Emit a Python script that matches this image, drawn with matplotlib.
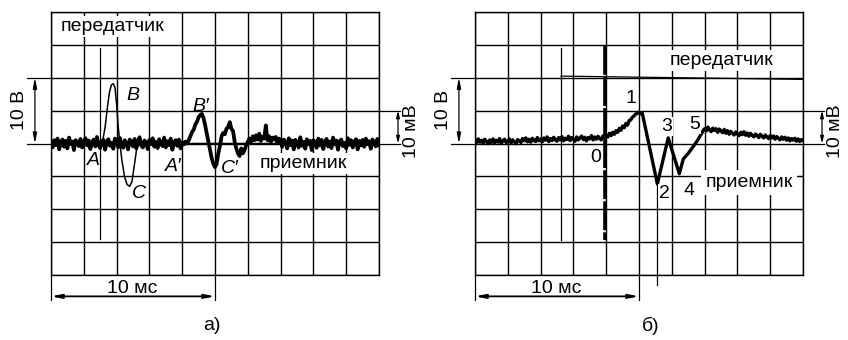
import numpy as np
import matplotlib
matplotlib.use("Agg")
import matplotlib.pyplot as plt

plt.rcParams['font.family'] = ['Liberation Sans', 'DejaVu Sans']

# ---- data, in screen divisions (x: 0..10, y: -4..4) ----
# panel a) transmitter pulse (thin)
tx_a_x = [0, 1.52, 1.58, 1.65, 1.72, 1.78, 1.84, 1.90, 1.95, 2.00, 2.05, 2.10,
          2.16, 2.24, 2.32, 2.40, 2.47, 2.55, 2.62, 2.66, 10]
tx_a_y = [0, 0, 0.10, 0.50, 1.10, 1.55, 1.78, 1.82, 1.70, 1.20, 0.50, 0,
          -0.50, -1.00, -1.25, -1.30, -1.15, -0.60, -0.10, 0, 0]
trig_a = 1.49

# panel a) receiver (thick), sampled every 0.05 div
rx_a_y = [
    0.05, -0.12, 0.10, -0.05, 0.15, -0.18, 0.02, 0.12, -0.10, 0.08,
    -0.15, 0.18, -0.02, 0.06, -0.20, 0.10, 0.04, -0.08, 0.14, -0.12,
    0.00, 0.16, -0.06, 0.09, -0.17, 0.03, 0.12, -0.09, 0.20, -0.04,
    -0.14, 0.07, 0.11, -0.19, 0.05, 0.13, -0.07, 0.02, -0.16, 0.15,
    0.08, -0.11, 0.17, -0.03, -0.13, 0.10, 0.01, -0.18, 0.12, 0.06,
    -0.09, 0.14, -0.15, 0.04, 0.19, -0.06, -0.12, 0.09, 0.03, -0.17,
    0.11, -0.02, 0.16, -0.10, 0.05, -0.14, 0.13, 0.00, -0.08, 0.18,
    -0.12, 0.07, -0.05, 0.15, -0.19, 0.02, 0.10, -0.07, 0.12, -0.15,
    0.04, -0.03, 0.06,
    0.00, 0.10, 0.22, 0.35, 0.42, 0.58, 0.66, 0.80, 0.87, 0.90,
    0.78, 0.55, 0.30, 0.05, -0.20, -0.45, -0.62, -0.72, -0.62, -0.30,
    -0.08, 0.22, 0.32, 0.28, 0.45, 0.50, 0.65, 0.45, 0.38, 0.05,
    -0.15, -0.30, -0.38, -0.15, -0.30, -0.20, -0.05, 0.05,
    0.15, 0.05, 0.22, 0.10, 0.25, 0.12, 0.30, 0.08, 0.20, 0.15,
    0.55, 0.10, 0.22, 0.05, 0.18, 0.12, 0.20, 0.02, 0.15, 0.08,
    -0.10, 0.12, 0.04, -0.15, 0.16, -0.05, 0.09, -0.18, 0.11, 0.02,
    -0.12, 0.19, -0.07, 0.05, -0.16, 0.13, -0.02, 0.08, -0.20, 0.10,
    0.03, -0.13, 0.15, -0.06, 0.11, -0.17, 0.04, 0.14, -0.09, 0.06,
    -0.14, 0.18, -0.03, 0.09, -0.19, 0.07, 0.12, -0.08, 0.02, -0.15,
    0.16, -0.04, 0.10, -0.12, 0.05, 0.13, -0.18, 0.08, -0.06, 0.11,
    -0.10, 0.15, -0.02, 0.07, -0.16, 0.12, 0.03, -0.09, 0.14, -0.05]
rx_a_x = np.linspace(0, 10, len(rx_a_y))

labels_a = [("A", 1.28, -0.52), ("B", 2.50, 1.46), ("C", 2.68, -1.52),
            ("A\u2032", 3.72, -0.70), ("B\u2032", 4.57, 1.12), ("C\u2032", 5.46, -0.76)]

# panel б) transmitter (thin)
trig_b = 2.62
tx_b_x = [2.62, 10]
tx_b_y = [2.05, 1.95]
center_b = 3.96
mark_b = 5.55

# panel б) receiver (thick)
rx_b_pre = [
    0.12, 0.02, 0.14, 0.04, 0.10, 0.00, 0.13, 0.06, -0.01, 0.11,
    0.03, 0.14, 0.02, 0.10, 0.04, 0.15, 0.00, 0.08, 0.13, 0.03,
    0.07, 0.14, 0.02, 0.11, 0.05, -0.01, 0.12, 0.08, 0.03, 0.15,
    0.08, 0.17, 0.05, 0.13, 0.04, 0.16, 0.09, 0.06, 0.18, 0.08,
    0.14, 0.05, 0.17, 0.10, 0.20, 0.06, 0.15, 0.09, 0.19, 0.11,
    0.07, 0.18, 0.11, 0.21, 0.08, 0.16, 0.12, 0.22, 0.09, 0.18,
    0.13, 0.07, 0.20, 0.11, 0.17, 0.23, 0.12, 0.19, 0.08, 0.18,
    0.14, 0.24, 0.11, 0.20, 0.13, 0.22, 0.15, 0.11, 0.23, 0.18]
rx_b_evt_x = [4.00, 4.05, 4.10, 4.15, 4.20, 4.25, 4.30, 4.35, 4.40, 4.45, 4.50,
              4.55, 4.60, 4.65, 4.70, 4.75, 4.80, 4.85, 4.90, 4.95, 5.00, 5.05,
              5.10, 5.56, 5.89, 6.23, 6.35, 6.50, 6.65, 6.80, 6.96]
rx_b_evt_y = [0.25, 0.20, 0.31, 0.24, 0.34, 0.28, 0.39, 0.34, 0.46, 0.40, 0.53,
              0.48, 0.61, 0.56, 0.70, 0.72, 0.80, 0.84, 0.90, 0.92, 0.95, 0.90,
              0.92, -1.23, 0.17, -0.92, -0.47, -0.30, -0.10, 0.12, 0.40]
rx_b_post = [
    0.45, 0.38, 0.50, 0.41, 0.36, 0.47, 0.40, 0.45, 0.34, 0.44,
    0.38, 0.33, 0.43, 0.31, 0.39, 0.28, 0.37, 0.31, 0.26, 0.35,
    0.29, 0.24, 0.34, 0.27, 0.36, 0.25, 0.32, 0.22, 0.31, 0.25,
    0.20, 0.29, 0.24, 0.18, 0.28, 0.22, 0.17, 0.26, 0.20, 0.15,
    0.24, 0.17, 0.23, 0.13, 0.21, 0.16, 0.11, 0.20, 0.13, 0.19,
    0.10, 0.17, 0.08, 0.15, 0.10, 0.16, 0.07, 0.14, 0.06, 0.12,
    0.09]
rx_b_x = np.concatenate([np.linspace(0, 3.95, len(rx_b_pre)), rx_b_evt_x,
                         np.linspace(7, 10, len(rx_b_post))])
rx_b_y = np.concatenate([rx_b_pre, rx_b_evt_y, rx_b_post])

labels_b = [("0", 3.68, -0.42), ("1", 4.75, 1.36), ("2", 5.78, -1.51),
            ("3", 5.84, 0.52), ("4", 6.52, -1.43), ("5", 6.70, 0.58)]

FS = 14
W, H = 848, 340
fig = plt.figure(figsize=(W / 100, H / 100), dpi=100)
ax_a = fig.add_axes([51 / W, 1 - 275 / H, 328 / W, 263 / H])
ax_b = fig.add_axes([475 / W, 1 - 275 / H, 328 / W, 263 / H])


def scope(ax):
    ax.set_xlim(0, 10)
    ax.set_ylim(-4, 4)
    ax.set_xticks(range(11))
    ax.set_yticks(range(-4, 5))
    ax.tick_params(length=0, labelbottom=False, labelleft=False)
    ax.grid(True, color='k', lw=1.0)
    ax.set_axisbelow(True)
    for s in ax.spines.values():
        s.set_linewidth(1.0)

    kw = dict(color='k', lw=0.9, clip_on=False)
    # 10 В scale on the left
    ax.plot([-0.73, 0], [0, 0], **kw)
    ax.plot([-0.73, 0], [2, 2], **kw)
    ax.annotate("", xy=(-0.49, 0), xytext=(-0.49, 2), annotation_clip=False,
                arrowprops=dict(arrowstyle='<|-|>,head_length=0.6,head_width=0.12',
                                color='k', lw=0.9, shrinkA=0, shrinkB=0))
    ax.text(-0.95, 1.03, "10 В", rotation=90, ha='center', va='center', fontsize=FS)
    # 10 мВ scale on the right
    ax.plot([10, 10.64], [0, 0], **kw)
    ax.plot([10, 10.64], [1, 1], **kw)
    ax.annotate("", xy=(10.58, 0), xytext=(10.58, 1), annotation_clip=False,
                arrowprops=dict(arrowstyle='<|-|>,head_length=0.4,head_width=0.1',
                                color='k', lw=0.9, shrinkA=0, shrinkB=0))
    ax.text(11.0, 0.37, "10 мВ", rotation=90, ha='center', va='center', fontsize=FS)
    # 10 мс scale below
    ax.plot([0, 0], [-4, -4.77], **kw)
    ax.plot([5, 5], [-4, -4.77], **kw)
    ax.annotate("", xy=(0, -4.65), xytext=(5, -4.65), annotation_clip=False,
                arrowprops=dict(arrowstyle='<|-|>,head_length=0.6,head_width=0.12',
                                color='k', lw=1.3, shrinkA=0, shrinkB=0))
    ax.text(2.46, -4.41, "10 мс", ha='center', va='center', fontsize=FS)


box = dict(facecolor='white', edgecolor='none', pad=1.5)

# ---- panel a) ----
scope(ax_a)
ax_a.plot([trig_a, trig_a], [2.92, -2.89], color='k', lw=0.9)
ax_a.plot(tx_a_x, tx_a_y, color='k', lw=1.1, zorder=3)
ax_a.plot(rx_a_x, rx_a_y, color='k', lw=2.7, zorder=4)
ax_a.text(1.89, 3.56, "передатчик", ha='center', va='center', fontsize=FS, bbox=box, zorder=5)
ax_a.text(7.70, -0.61, "приемник", ha='center', va='center', fontsize=FS, bbox=box, zorder=5)
for t, x, y in labels_a:
    ax_a.text(x, y, t, ha='center', va='center', fontsize=FS, style='italic', zorder=5)
ax_a.text(4.9, -5.55, "а)", ha='center', va='center', fontsize=FS, clip_on=False)

# ---- panel б) ----
scope(ax_b)
ax_b.plot([trig_b, trig_b], [2.92, -2.95], color='k', lw=0.9)
ax_b.plot(tx_b_x, tx_b_y, color='k', lw=0.9)
ax_b.plot([center_b, center_b], [2.98, -2.95], color='k', lw=2.6,
          dashes=(8, 0.6), zorder=3)
ax_b.plot([mark_b, mark_b], [-1.2, -4.3], color='k', lw=0.9, clip_on=False)
ax_b.plot(rx_b_x, rx_b_y, color='k', lw=2.4, zorder=4)
ax_b.text(7.53, 2.52, "передатчик", ha='center', va='center', fontsize=FS, bbox=box, zorder=5)
ax_b.text(8.35, -1.19, "приемник", ha='center', va='center', fontsize=FS,
          bbox=dict(facecolor='white', edgecolor='none', pad=3), zorder=5)
for t, x, y in labels_b:
    ax_b.text(x, y, t, ha='center', va='center', fontsize=FS,
              bbox=dict(facecolor='white', edgecolor='none', pad=0.5), zorder=5)
ax_b.text(5.37, -5.55, "б)", ha='center', va='center', fontsize=FS, clip_on=False)

fig.savefig("out.png", dpi=100)
